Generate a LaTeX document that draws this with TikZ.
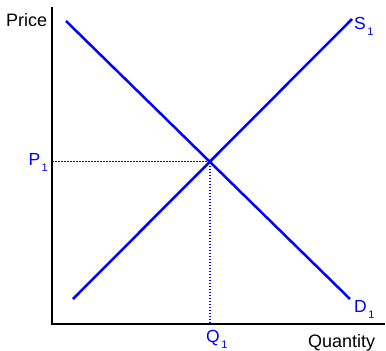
\documentclass[tikz,border=0pt]{standalone}
\usepackage{fontspec}
\setmainfont{Liberation Sans}
\definecolor{curveblue}{RGB}{0,0,255}
\newcommand{\subone}{\kern1.5pt\raisebox{-6pt}{\fontsize{11}{11}\selectfont 1}}
\begin{document}
\begin{tikzpicture}[x=1pt,y=-1pt,
  axisline/.style={line width=2pt,black},
  curve/.style={line width=2.5pt,curveblue},
  guide/.style={line width=1.5pt,curveblue,dash pattern=on 1.5pt off 1.5pt},
  biglabel/.style={anchor=base west,inner sep=0pt,font=\fontsize{18}{18}\selectfont,black},
  bluelabel/.style={anchor=base west,inner sep=0pt,font=\fontsize{17.5}{17.5}\selectfont,text=curveblue}]
\useasboundingbox (0,0) rectangle (386,351);
% axes
\coordinate (ytop) at (52,7);
\coordinate (O) at (52,324);
\coordinate (xend) at (385,324);
% curves
\coordinate (Dstart) at (66,21);
\coordinate (Dend) at (350,299);
\coordinate (Sstart) at (73,299);
\coordinate (Send) at (352,19);
\coordinate (E) at (intersection of Dstart--Dend and Sstart--Send);
\draw[guide] (O |- E) -- (E) -- (E |- O);
\draw[curve] (Dstart) -- (Dend);
\draw[curve] (Sstart) -- (Send);
\draw[axisline] (ytop) -- (O) -- (xend);
% labels
\node[biglabel] (price) at (6,26) {Price};
\node[biglabel] (qty) at (308,347) {Quantity};
\node[bluelabel] (S1) at (354,29) {S\subone};
\node[bluelabel] (D1) at (354,312) {D\subone};
\node[bluelabel,anchor=base east] (P1) at (48,165) {P\subone};
\node[bluelabel] (Q1) at (206,342) {Q\subone};
\end{tikzpicture}
\end{document}
